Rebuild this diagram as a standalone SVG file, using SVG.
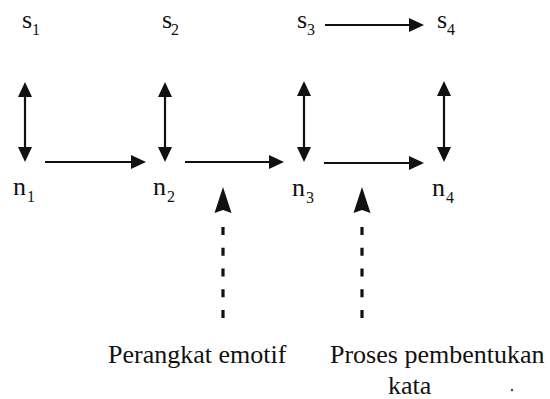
<svg xmlns="http://www.w3.org/2000/svg" width="550" height="399" viewBox="0 0 550 399">
<style>
text{font-family:'Liberation Serif','Times New Roman','DejaVu Serif',serif;fill:#111}
.lbl{font-size:26px}
.sub{font-size:16px}
.cap{font-size:26px}
.ln{stroke:#111;stroke-width:2.2;fill:none}
.dash{stroke:#111;stroke-width:3.2;fill:none;stroke-dasharray:8 12.75}
</style>
<defs>
<marker id="ah" markerUnits="userSpaceOnUse" markerWidth="16" markerHeight="16" viewBox="0 -8 16 16" refX="0" refY="0" orient="auto-start-reverse">
<path d="M0,-7 L15,0 L0,7 z" fill="#111"/>
</marker>
<path id="bighead" d="M0,0 L8.5,26 L0,23 L-8.5,26 z" fill="#111"/>
</defs>
<rect width="550" height="399" fill="#fff"/>
<g id="s1"><text class="lbl" x="22" y="28">s</text><text class="sub" x="32" y="35">1</text></g>
<g id="s2"><text class="lbl" x="162" y="28">s</text><text class="sub" x="171" y="35">2</text></g>
<g id="s3"><text class="lbl" x="297" y="28">s</text><text class="sub" x="307" y="35">3</text></g>
<g id="s4"><text class="lbl" x="437" y="28">s</text><text class="sub" x="447" y="35">4</text></g>
<g id="n1"><text class="lbl" x="13" y="195">n</text><text class="sub" x="27" y="202">1</text></g>
<g id="n2"><text class="lbl" x="153" y="195">n</text><text class="sub" x="167" y="202">2</text></g>
<g id="n3"><text class="lbl" x="292" y="196">n</text><text class="sub" x="306" y="203">3</text></g>
<g id="n4"><text class="lbl" x="432" y="196">n</text><text class="sub" x="446" y="203">4</text></g>
<g id="perangkat"><text class="cap" x="108" y="363">Perangkat emotif</text></g>
<g id="proses"><text class="cap" x="330" y="363">Proses pembentukan</text><text class="cap" x="388" y="394">kata</text></g>
<g id="connectors">
<line class="ln" x1="25" y1="97" x2="25" y2="147" marker-start="url(#ah)" marker-end="url(#ah)"/>
<line class="ln" x1="165" y1="97" x2="165" y2="147" marker-start="url(#ah)" marker-end="url(#ah)"/>
<line class="ln" x1="304" y1="96" x2="304" y2="147" marker-start="url(#ah)" marker-end="url(#ah)"/>
<line class="ln" x1="444" y1="96" x2="444" y2="147" marker-start="url(#ah)" marker-end="url(#ah)"/>
<line class="ln" x1="45" y1="162" x2="131" y2="162" marker-end="url(#ah)"/>
<line class="ln" x1="185" y1="162" x2="269" y2="162" marker-end="url(#ah)"/>
<line class="ln" x1="324" y1="163" x2="409" y2="163" marker-end="url(#ah)"/>
<line class="ln" x1="325" y1="25" x2="409" y2="25" marker-end="url(#ah)"/>
<line class="dash" x1="223" y1="318" x2="223" y2="227"/>
<use href="#bighead" x="223" y="187"/>
<line class="dash" x1="362" y1="318" x2="362" y2="227"/>
<use href="#bighead" x="362" y="187"/>
</g>
<circle cx="512" cy="390" r="1.2" fill="#444"/>
</svg>
